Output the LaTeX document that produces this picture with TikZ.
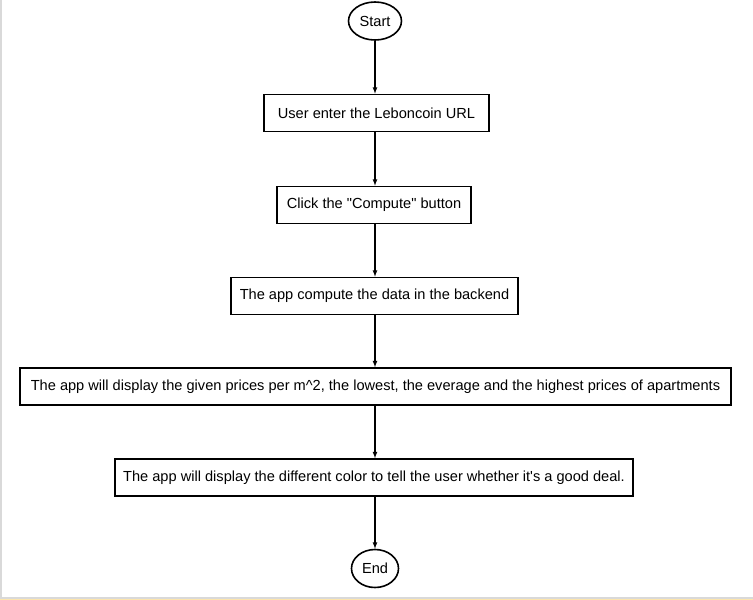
\documentclass[tikz,border=0pt]{standalone}
\usepackage{fontspec}
\setmainfont{Liberation Sans}
\usepackage{tikz}
\usetikzlibrary{arrows,shapes.geometric}

\tikzset{
  stepbox/.style={draw,line width=1.6pt,rectangle,minimum height=37pt,inner sep=0pt,font=\fontsize{14.6}{17}\selectfont},
  endpt/.style={draw,line width=1.6pt,ellipse,inner sep=0pt,font=\fontsize{14.6}{17}\selectfont},
  flow/.style={-latex,line width=1.2pt}
}

\begin{document}
\begin{tikzpicture}[x=1pt,y=-1pt] % 1pt = 1px
				\useasboundingbox (0,0) rectangle (753,600);
				\draw[black!15,line width=1.5pt] (0.75,0) -- (0.75,598);\draw[black!15,line width=1.5pt] (0,597.75) -- (753,597.75);
				\draw[yellow!40!orange!30,line width=1.5pt] (0,599.25) -- (753,599.25);
				\node[endpt,minimum width=53pt,minimum height=38pt](S) at (375,21) {Start};
				\node[stepbox,minimum width=225pt](B1) at (376.5,113) {User enter the Leboncoin URL};
				\node[stepbox,minimum width=194pt](B2) at (374,205) {Click the \textquotedbl Compute\textquotedbl{} button};
				\node[stepbox,minimum width=287pt](B3) at (374.5,296) {The app compute the data in the backend};
				\node[stepbox,minimum width=711pt](B4) at (375.5,386.5) {The app will display the given prices per m\^{}2, the lowest, the everage and the highest prices of apartments};
				\node[stepbox,minimum width=518pt](B5) at (374,477.5) {The app will display the different color to tell the user whether it\textquotesingle s a good deal.};
				\node[endpt,minimum width=47pt,minimum height=38pt](E) at (375,568.5) {End};
				\draw[flow] (S) -- (S |- B1.north);\draw[flow] (S |- B1.south) -- (S |- B2.north);\draw[flow] (S |- B2.south) -- (S |- B3.north);
				\draw[flow] (S |- B3.south) -- (S |- B4.north);\draw[flow] (S |- B4.south) -- (S |- B5.north);\draw[flow] (S |- B5.south) -- (E);
			\end{tikzpicture}
\end{document}
